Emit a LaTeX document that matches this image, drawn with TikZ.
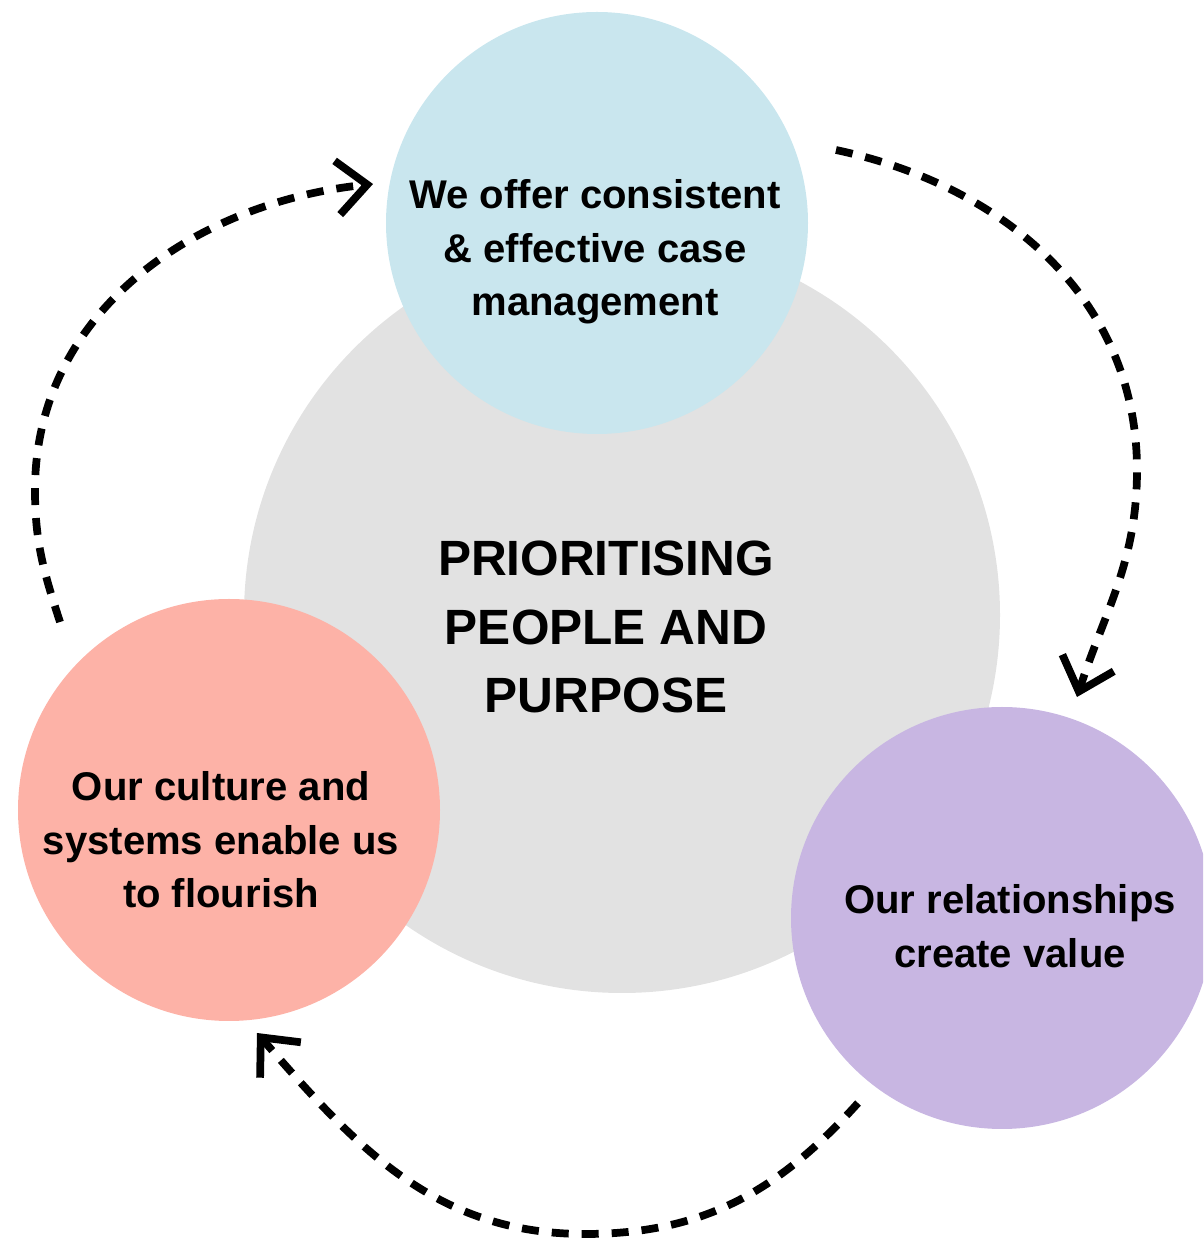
\documentclass[tikz,border=0pt]{standalone}
\usepackage{fontspec}
\setmainfont{Liberation Sans}
\usepackage{xcolor}
\usepackage{tikz}
\usetikzlibrary{positioning,arrows.meta}

\definecolor{hubgray}{HTML}{E2E2E2}
\definecolor{caseblue}{HTML}{C9E6EE}
\definecolor{culturepink}{HTML}{FDB2A7}
\definecolor{valuepurple}{HTML}{C8B6E2}

\tikzset{
	bubble/.style={circle, inner sep=0pt, minimum size=4.22cm},
	txt/.style={align=center, font=\bfseries\fontsize{11.4}{15.2}\selectfont},
	loopline/.style={line width=2.2pt, dash pattern=on 0.17cm off 0.13cm,
		-{Straight Barb[length=0.3cm, width=0.54cm, sharp]}}
}

\begin{document}
\begin{tikzpicture}
	\useasboundingbox (0,0) rectangle (12.03,12.41);
	\clip (0,0) rectangle (12.03,12.41);
	\node[circle, fill=hubgray, inner sep=0pt, minimum size=7.56cm] (hub) at (6.22,6.26) {};
	\node[bubble, fill=caseblue] (case) at (5.97,10.18) {};
	\node[bubble, fill=culturepink] (culture) at (2.29,4.31) {};
	\node[bubble, fill=valuepurple] (value) at (10.02,3.23) {};
	\node[align=center, font=\bfseries\fontsize{14.1}{19.5}\selectfont] (hub-txt) at (6.06,6.14) {PRIORITISING\\PEOPLE AND\\PURPOSE};
	\node[txt] (case-txt) at (5.95,9.89) {We offer consistent\\\& effective case\\management};
	\node[txt] (culture-txt) at (2.21,4.01) {Our culture and\\systems enable us\\to flourish};
	\node[txt] (value-txt) at (10.10,3.15) {Our relationships\\create value};
	\coordinate (r0) at (8.36,10.91);
	\coordinate (r1) at (11.37,7.71);
	\coordinate (r2) at (10.77,5.44);
	\coordinate (b0) at (8.58,1.38);
	\coordinate (b1) at (5.85,0.07);
	\coordinate (b2) at (2.57,2.08);
	\coordinate (l0) at (0.60,6.19);
	\coordinate (l1) at (0.35,7.51);
	\coordinate (l2) at (3.73,10.57);
	\draw[loopline] (r0) to[out=-12,in=90] (r1) to[out=-90,in=72] (r2);
	\draw[loopline] (b0) to[out=-132,in=0] (b1) to[out=180,in=-49] (b2);
	\draw[loopline] (l0) to[out=108,in=-90] (l1) to[out=90,in=186] (l2);
\end{tikzpicture}
\end{document}
